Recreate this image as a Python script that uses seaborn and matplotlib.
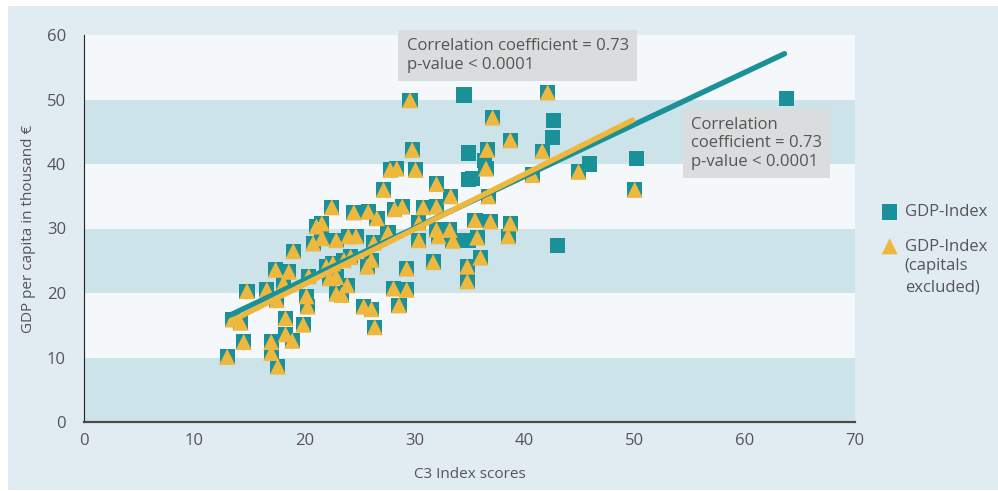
import numpy as np
import pandas as pd
import matplotlib
matplotlib.use("Agg")
import matplotlib.pyplot as plt
from matplotlib.patches import Rectangle
import seaborn as sns

# regions that are not capitals -> square (GDP-Index) and triangle (capitals excluded)
region_c3 = [13.0, 14.2, 13.5, 14.5, 14.8, 16.6, 17.0, 17.0, 17.4, 17.6,
             17.5, 18.1, 18.3, 18.3, 18.9, 18.6, 19.0, 19.9, 20.2, 20.3,
             20.4, 20.8, 21.1, 21.6, 21.6, 22.0, 22.3, 22.5, 22.9, 22.9,
             22.6, 22.9, 23.4, 23.9, 23.6, 24.2, 24.0, 24.7, 24.5, 25.4,
             25.7, 26.1, 26.1, 26.4, 25.8, 26.6, 26.3, 27.6, 27.2, 27.8,
             28.4, 28.2, 28.9, 28.1, 28.6, 29.3, 29.3, 29.6, 29.8, 30.1,
             30.4, 30.4, 30.8, 31.7, 32.0, 32.0, 32.0, 32.2, 33.2, 33.5,
             33.3, 34.8, 34.8, 35.5, 35.7, 36.0, 36.6, 36.5, 36.7, 36.9,
             37.1, 38.7, 38.7, 38.5, 40.7, 41.6, 42.1, 44.9, 50.0]
region_gdp = [10.1, 15.4, 15.9, 12.4, 20.3, 20.5, 12.4, 10.7, 23.6, 8.6,
              18.9, 21.5, 16.1, 13.6, 12.6, 23.3, 26.5, 15.1, 19.5, 17.9,
              22.6, 27.7, 30.3, 30.8, 28.5, 24.1, 22.3, 33.3, 28.2, 19.9,
              24.6, 22.5, 19.7, 21.2, 25.1, 25.6, 28.8, 28.8, 32.5, 17.9,
              24.1, 25.1, 17.5, 14.7, 32.6, 31.6, 27.8, 29.3, 36.0, 39.1,
              39.3, 33.0, 33.4, 20.7, 18.1, 20.5, 23.8, 49.9, 42.2, 39.1,
              30.9, 28.2, 33.3, 24.8, 36.9, 33.4, 29.8, 28.8, 29.8, 28.1,
              35.0, 24.1, 21.8, 31.3, 28.6, 25.5, 42.2, 39.3, 35.0, 31.1,
              47.2, 43.7, 30.8, 28.8, 38.3, 42.0, 51.1, 38.8, 36.0]

# capital regions -> square only
capital_c3 = [34.5, 34.9, 34.9, 35.3, 36.4, 34.9, 42.6, 42.5, 43.0, 45.9, 50.2, 63.8]
capital_gdp = [50.7, 41.7, 37.6, 37.8, 40.5, 28.2, 46.8, 44.1, 27.4, 40.0, 40.8, 50.2]

# regression lines
fit_all_x = [13.3, 63.6]
fit_all_y = [16.6, 57.1]
fit_nocap_x = [13.3, 49.8]
fit_nocap_y = [15.6, 46.8]

x_ticks = [0, 10, 20, 30, 40, 50, 60, 70]
y_ticks = [0, 10, 20, 30, 40, 50, 60]

teal = "#1A9098"
yellow = "#EDB83D"
txt = "#555555"

sns.set_style("white")
plt.rcParams["font.family"] = ["Open Sans", "DejaVu Sans"]

all_df = pd.DataFrame({"c3": region_c3 + capital_c3, "gdp": region_gdp + capital_gdp})
nocap_df = pd.DataFrame({"c3": region_c3, "gdp": region_gdp})

fig = plt.figure(figsize=(9.98, 4.91), dpi=100, facecolor="white")
fig.patches.append(Rectangle((8 / 998, 1 - 490 / 491), 990 / 998, 484 / 491,
                             transform=fig.transFigure, facecolor="#E1ECF2",
                             edgecolor="none", zorder=-10))
ax = fig.add_axes([84 / 998, 1 - 422 / 491, 771 / 998, 387 / 491])
ax.set_facecolor("#F4F8FB")

# alternating bands
for lo in range(0, 60, 20):
    ax.axhspan(lo, lo + 10, color="#CDE3EA", zorder=0, lw=0)

sns.scatterplot(data=all_df, x="c3", y="gdp", marker="s", s=118, color=teal,
                edgecolor="none", linewidth=0, ax=ax, label="GDP-Index", zorder=3)
sns.scatterplot(data=nocap_df, x="c3", y="gdp", marker="^", s=135, color=yellow,
                edgecolor="none", linewidth=0, ax=ax, label="GDP-Index", zorder=4)

sns.lineplot(x=fit_all_x, y=fit_all_y, color=teal, lw=3.9, ax=ax, zorder=5,
             solid_capstyle="round", legend=False)
sns.lineplot(x=fit_nocap_x, y=fit_nocap_y, color=yellow, lw=3.9, ax=ax, zorder=6,
             solid_capstyle="round", legend=False)

ax.set_xlim(0, 70)
ax.set_ylim(0, 60)
ax.set_xticks(x_ticks)
ax.set_yticks(y_ticks)
ax.tick_params(axis="both", length=0, labelsize=12, labelcolor=txt)
ax.tick_params(axis="y", pad=13)
ax.tick_params(axis="x", pad=8)
ax.set_xlabel("C3 Index scores", fontsize=11, color=txt, labelpad=13)
ax.set_ylabel("GDP per capita in thousand €", fontsize=11, color=txt, labelpad=8)

for s in ["top", "right"]:
    ax.spines[s].set_visible(False)
ax.spines["left"].set_color("#222222")
ax.spines["left"].set_linewidth(0.8)
ax.spines["bottom"].set_color("#4A4A4A")
ax.spines["bottom"].set_linewidth(1.6)
ax.spines["left"].set_zorder(7)
ax.spines["bottom"].set_zorder(7)

box = dict(boxstyle="square,pad=0.5", facecolor="#DBDCDD", edgecolor="none")
ax.text(29.3, 59.5, "Correlation coefficient = 0.73\np-value < 0.0001", fontsize=12,
        color=txt, va="top", ha="left", bbox=box, clip_on=False, zorder=8)
ax.text(55.1, 47.3, "Correlation\ncoefficient = 0.73\np-value < 0.0001", fontsize=12,
        color=txt, va="top", ha="left", bbox=box, clip_on=False, zorder=8)

ax.get_legend().remove()
h, l = ax.get_legend_handles_labels()
leg = fig.legend(h, l, loc="upper left", bbox_to_anchor=(873 / 998, 1 - 196 / 491),
                 frameon=False, fontsize=12, labelcolor=txt, borderpad=0,
                 handletextpad=0.4, labelspacing=1.1, handlelength=1.0)
fig.canvas.draw()
bb = leg.get_texts()[1].get_window_extent().transformed(fig.transFigure.inverted())
fig.text(bb.x0, bb.y0 - 3 / 491, "(capitals\nexcluded)", fontsize=12, color=txt,
         va="top", ha="left", linespacing=1.5)

fig.savefig("out.png", dpi=100, facecolor="white")
